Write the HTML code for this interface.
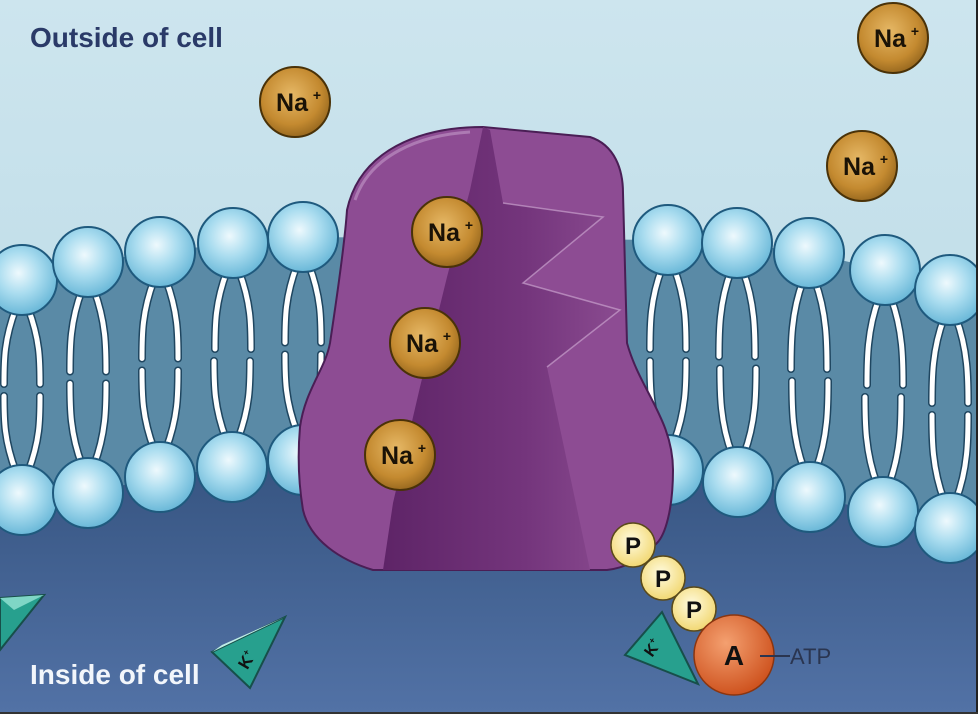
<!DOCTYPE html>
<html><head><meta charset="utf-8"><style>
html,body{margin:0;padding:0;background:#fff}
svg{display:block}
text{font-family:"Liberation Sans",sans-serif;font-weight:bold}
</style></head><body>
<svg id="s" width="978" height="714" viewBox="0 0 978 714" xmlns="http://www.w3.org/2000/svg">
<defs>
<linearGradient id="sky" x1="0" y1="0" x2="0" y2="1"><stop offset="0" stop-color="#cde5ee"/><stop offset="1" stop-color="#b3d6e3"/></linearGradient>
<linearGradient id="deep" x1="0" y1="0" x2="0" y2="1"><stop offset="0" stop-color="#34527e"/><stop offset="1" stop-color="#5272a6"/></linearGradient>
<radialGradient id="head" cx="0.45" cy="0.4" r="0.6"><stop offset="0" stop-color="#eef9fd"/><stop offset="0.5" stop-color="#a9dcef"/><stop offset="1" stop-color="#6ab8d8"/></radialGradient>
<radialGradient id="na" cx="0.45" cy="0.4" r="0.6"><stop offset="0" stop-color="#e6b866"/><stop offset="0.7" stop-color="#c48a30"/><stop offset="1" stop-color="#9a6a20"/></radialGradient>
<radialGradient id="pp" cx="0.45" cy="0.4" r="0.6"><stop offset="0" stop-color="#fffbe0"/><stop offset="1" stop-color="#f2d873"/></radialGradient>
<radialGradient id="aa" cx="0.4" cy="0.35" r="0.65"><stop offset="0" stop-color="#f4a070"/><stop offset="1" stop-color="#cf5420"/></radialGradient>
<linearGradient id="groove" x1="0" y1="0" x2="1" y2="0"><stop offset="0" stop-color="#5e2467"/><stop offset="0.6" stop-color="#74357c"/><stop offset="1" stop-color="#8a4b90"/></linearGradient>
</defs>
<rect width="978" height="714" fill="url(#sky)"/>
<path d="M0 480 L300 440 L680 450 L978 510 L978 714 L0 714 Z" fill="url(#deep)"/>
<path d="M0 280 L88 262 L160 252 L233 243 L303 237 L668 240 L737 243 L809 253 L885 270 L978 290 L978 528 L883 512 L810 497 L738 482 L668 470 L300 460 L232 467 L160 477 L88 493 L0 500 Z" fill="#5a8aa6"/>
<g id="mem"></g>
<path d="M347 210 C360 150 420 127 483 127 L590 137 C615 145 623 170 623 193 L627 343 C640 390 673 420 673 470 C673 510 665 535 657 543 C640 560 625 568 607 570 L373 570 C340 560 310 540 303 510 C298 480 298 450 300 427 C305 390 325 370 330 343 C338 290 345 240 347 210 Z" fill="#8d4c93" stroke="#4a1e55" stroke-width="2"/>
<path d="M483 127 L470 190 L447 277 L420 387 L393 503 L383 570 L590 570 L547 367 L620 310 L523 283 L603 217 L503 203 L490 130 Z" fill="url(#groove)"/>
<path d="M503 203 L603 217 L523 283 L620 310 L547 367" fill="none" stroke="#c8a0cc" stroke-width="1.5" opacity="0.7"/>
<path d="M355 200 C370 155 420 135 470 132" fill="none" stroke="#c39ac8" stroke-width="3" opacity="0.6"/>
<g id="ions"></g>
<g stroke="#5a4a1a" stroke-width="1.5">
<circle cx="633" cy="545" r="22" fill="url(#pp)"/>
<circle cx="663" cy="578" r="22" fill="url(#pp)"/>
<circle cx="694" cy="609" r="22" fill="url(#pp)"/>
</g>
<polygon points="625,655 662,612 698,684" fill="#27a08e" stroke="#174f4a" stroke-width="2"/>
<polygon points="662,612 698,684 670,628" fill="#9fe0d6"/>
<text x="648" y="660" font-size="16" fill="#111" transform="rotate(-55 648 655)">K<tspan font-size="9" dy="-7">+</tspan></text>
<circle cx="734" cy="655" r="40" fill="url(#aa)" stroke="#8a3510" stroke-width="1.5"/>
<g fill="#111" font-size="24" text-anchor="middle">
<text x="633" y="554">P</text><text x="663" y="587">P</text><text x="694" y="618">P</text>
<text x="734" y="665" font-size="28">A</text>
</g>
<line x1="760" y1="656" x2="790" y2="656" stroke="#2a3550" stroke-width="2"/>
<text x="790" y="664" font-size="22" fill="#2a3550" style="font-weight:normal">ATP</text>
<polygon points="212,652 285,617 250,688" fill="#27a08e" stroke="#174f4a" stroke-width="2"/>
<polygon points="212,652 285,617 222,645" fill="#bfeee6"/>
<text x="238" y="670" font-size="17" fill="#111" transform="rotate(-60 243 662)">K<tspan font-size="9" dy="-7">+</tspan></text>
<polygon points="0,598 44,595 0,650" fill="#27a08e" stroke="#174f4a" stroke-width="2"/>
<polygon points="0,598 44,595 14,610" fill="#7fd6c6"/>
<text x="30" y="47" font-size="28" fill="#2a3a68">Outside of cell</text>
<text x="30" y="684" font-size="28" fill="#f2f6fb">Inside of cell</text>
<rect x="976" y="0" width="2" height="714" fill="#222"/>
<rect x="0" y="712" width="978" height="2" fill="#333"/>
</svg>
<script>
(function(){
var NS="http://www.w3.org/2000/svg";
function el(p,t,a){var e=document.createElementNS(NS,t);for(var k in a)e.setAttribute(k,a[k]);p.appendChild(e);return e;}
var mem=document.getElementById("mem");
var tops=[[22,280],[88,262],[160,252],[233,243],[303,237],[668,240],[737,243],[809,253],[885,270],[950,290]];
var bots=[[22,500],[88,493],[160,477],[232,467],[303,460],[668,470],[738,482],[810,497],[883,512],[950,528]];
for(var i=0;i<tops.length;i++){
 var t=tops[i],b=bots[i],mid=(t[1]+b[1])/2;
 var d="M"+(t[0]-6)+" "+(t[1]+28)+" C"+(t[0]-18)+" "+(t[1]+60)+" "+(t[0]-18)+" "+(mid-30)+" "+(t[0]-18)+" "+(mid-6)+
 " M"+(t[0]+6)+" "+(t[1]+28)+" C"+(t[0]+18)+" "+(t[1]+60)+" "+(t[0]+18)+" "+(mid-30)+" "+(t[0]+18)+" "+(mid-6)+
 " M"+(b[0]-6)+" "+(b[1]-28)+" C"+(b[0]-18)+" "+(b[1]-60)+" "+(b[0]-18)+" "+(mid+30)+" "+(b[0]-18)+" "+(mid+6)+
 " M"+(b[0]+6)+" "+(b[1]-28)+" C"+(b[0]+18)+" "+(b[1]-60)+" "+(b[0]+18)+" "+(mid+30)+" "+(b[0]+18)+" "+(mid+6);
 el(mem,"path",{d:d,fill:"none",stroke:"#1f4660","stroke-width":8,"stroke-linecap":"round"});
 el(mem,"path",{d:d,fill:"none",stroke:"#fff","stroke-width":5,"stroke-linecap":"round"});
}
tops.concat(bots).forEach(function(c){el(mem,"circle",{cx:c[0],cy:c[1],r:35,fill:"url(#head)",stroke:"#1f5a7e","stroke-width":2});});
var ions=document.getElementById("ions");
[[295,102],[893,38],[862,166],[447,232],[425,343],[400,455]].forEach(function(c){
 el(ions,"circle",{cx:c[0],cy:c[1],r:35,fill:"url(#na)",stroke:"#4a3208","stroke-width":2});
 var tx=el(ions,"text",{x:c[0]-3,y:c[1]+9,"font-size":25,fill:"#1a1206","text-anchor":"middle"});
 tx.textContent="Na";
 var sp=el(ions,"text",{x:c[0]+22,y:c[1]-2,"font-size":14,fill:"#1a1206","text-anchor":"middle"});
 sp.textContent="+";
});
})();
</script>
</body></html>
